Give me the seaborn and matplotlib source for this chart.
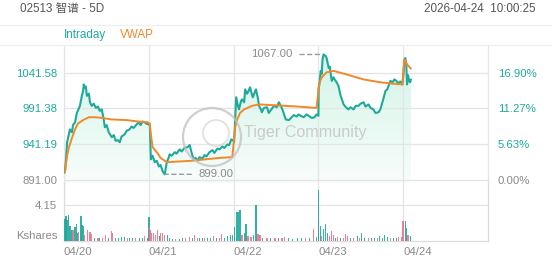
import numpy as np
import pandas as pd
import matplotlib
matplotlib.use("Agg")
import matplotlib.pyplot as plt
import seaborn as sns
from matplotlib.colors import LinearSegmentedColormap
from matplotlib.lines import Line2D
from matplotlib.patches import Circle

sns.set_theme(style="white")
plt.rcParams['font.family'] = ['Liberation Sans', 'Noto Sans CJK SC', 'DejaVu Sans']

# ---------------- data ----------------
TITLE = "02513 智谱 - 5D"
TIMESTAMP = "2026-04-24  10:00:25"
day_labels = ["04/20", "04/21", "04/22", "04/23", "04/24"]
session_minutes = 330
prev_close = 891.00
price_ticks = [891.00, 941.19, 991.38, 1041.58]
pct_labels = ["0.00%", "5.63%", "11.27%", "16.90%"]
vol_tick = 4.15
vol_tick_label = "4.15"
vol_unit = "Kshares"

# intraday price (minute since open, price)
d1_min = [0, 4, 8, 12, 19, 23, 31, 35, 43, 50, 62, 70, 74, 77, 81, 85, 89, 97, 101, 108,
          116, 124, 132, 139, 147, 155, 159, 166, 174, 186, 194, 201, 209, 217, 224, 236, 244,
          255, 263, 271, 283, 290, 298, 306, 313, 321, 330]
d1_px = [901, 905, 920, 944, 955, 962, 958, 968, 972, 985, 995, 1010, 1015, 1025, 1020, 1022,
         1009, 1012, 1000, 995, 998, 992, 994, 988, 990, 975, 965, 968, 958, 951, 954, 946, 947,
         944, 952, 955, 960, 962, 966, 964, 969, 972, 968, 973, 972, 970, 969]
d2_min = [4, 8, 15, 23, 31, 39, 46, 54, 62, 70, 77, 81, 89, 101, 108, 120, 128, 139, 151, 159,
          166, 174, 182, 190, 197, 209, 217, 224, 236, 248, 255, 267, 275, 286, 294, 306, 313,
          321, 330]
d2_px = [969, 920, 925, 916, 918, 910, 912, 903, 899, 916, 922, 927, 925, 930, 928, 934, 931,
         936, 937, 940, 930, 920, 922, 918, 923, 921, 926, 924, 930, 933, 929, 935, 934, 938,
         936, 941, 940, 948, 946]
d3_min = [2, 6, 10, 17, 21, 29, 33, 41, 45, 52, 56, 64, 72, 75, 83, 87, 95, 99, 106, 110, 118,
          130, 137, 145, 157, 168, 176, 184, 192, 199, 203, 215, 223, 234, 246, 253, 261, 273,
          284, 292, 304, 315, 323, 330]
d3_px = [944, 975, 1007, 995, 990, 1002, 1004, 1000, 1018, 1012, 1014, 1021, 1010, 1007, 1015,
         1018, 1005, 995, 990, 986, 992, 993, 985, 989, 995, 993, 1000, 995, 988, 980, 976, 975,
         978, 982, 980, 983, 981, 979, 983, 981, 978, 979, 983, 981]
d4_min = [1, 5, 9, 13, 16, 20, 28, 32, 40, 44, 52, 59, 63, 71, 78, 86, 98, 110, 117, 125, 137,
          145, 156, 164, 176, 183, 195, 203, 214, 222, 234, 241, 245, 253, 261, 268, 280, 288,
          296, 303, 311, 319, 327]
d4_px = [1018, 1030, 1044, 1040, 1060, 1067, 1065, 1062, 1048, 1050, 1030, 1035, 1032, 1028,
         1023, 1010, 997, 992, 990, 993, 990, 995, 995, 998, 1000, 994, 997, 992, 990, 985, 986,
         990, 995, 1005, 1016, 1018, 1030, 1028, 1032, 1030, 1027, 1029, 1025]
d5_min = [1, 4, 8, 12, 15, 19, 23, 27, 30]
d5_px = [1040, 1058, 1062, 1053, 1025, 1038, 1030, 1028, 1032]

# VWAP
v1_min = [4, 8, 12, 19, 23, 31, 43, 54, 74, 97, 120, 151, 182, 244, 290, 325]
v1_px = [902, 915, 925, 937, 941, 950, 962, 970, 975, 979, 979, 978, 976, 975, 973, 972]
v2_min = [4, 8, 15, 31, 46, 62, 70, 120, 170, 220, 275, 325]
v2_px = [970, 955, 937, 930, 922, 918, 916, 917, 918, 920, 922, 923]
v3_min = [2, 6, 13, 25, 41, 72, 99, 150, 200, 250, 323]
v3_px = [950, 965, 975, 985, 990, 995, 997, 996, 995, 994, 992]
v4_min = [1, 5, 13, 32, 59, 110, 176, 241, 290, 327]
v4_px = [1020, 1028, 1035, 1042, 1044, 1039, 1032, 1028, 1026, 1025]
v5_min = [4, 8, 15, 23, 30]
v5_px = [1060, 1058, 1053, 1050, 1047]

# volume (Kshares), u = up bar, d = down bar
vol1_min = [4, 8, 12, 19, 23, 31, 35, 43, 50, 54, 58, 66, 70, 77, 81, 93, 101, 108, 120, 132,
            139, 151, 163, 174, 186, 190, 201, 213, 224, 236, 248, 255, 267, 279, 294, 306, 313, 325]
vol1 = [2.5, 2.85, 2.45, 3.05, 1.7, 1.3, 1.2, 1.6, 2.0, 0.9, 1.0, 2.9, 1.8, 1.7, 0.6, 1.2, 1.0,
        0.8, 0.3, 0.25, 0.3, 0.35, 0.65, 0.3, 1.1, 0.9, 0.3, 0.25, 0.4, 0.4, 0.3, 0.35, 0.3, 0.25,
        0.35, 0.3, 0.55, 0.3]
dir1 = "uuuuuuduuu" "duuuddddud" "uddudduuuu" "duuduudu"
vol2_min = [1, 3, 7, 11, 18, 26, 34, 42, 45, 53, 61, 73, 80, 92, 104, 119, 130, 142, 158, 169,
            177, 189, 197, 208, 216, 228, 239, 251, 263, 274, 282, 294, 305, 317, 325]
vol2 = [2.8, 1.6, 1.2, 0.9, 0.9, 0.65, 1.3, 0.5, 0.9, 0.9, 0.65, 0.6, 0.3, 0.2, 0.2, 0.2, 0.25,
        0.3, 0.4, 0.3, 0.65, 0.3, 0.3, 0.25, 0.3, 0.25, 0.3, 0.5, 0.25, 0.3, 0.8, 0.3, 0.5, 0.6, 0.7]
dir2 = "uddddddudd" "duuuduuddu" "dduuduudud" "duuuu"
vol3_min = [2, 10, 17, 25, 33, 41, 48, 56, 68, 79, 87, 95, 103, 114, 130, 145, 161, 176, 188,
            199, 215, 230, 249, 265, 280, 296, 311, 323, 329]
vol3 = [1.65, 3.35, 3.35, 3.6, 0.6, 0.9, 2.0, 0.5, 0.4, 0.6, 4.15, 0.8, 0.6, 0.3, 0.25, 0.3,
        0.25, 0.3, 0.25, 0.4, 0.25, 0.2, 0.3, 0.25, 0.3, 0.25, 1.35, 0.4, 2.6]
dir3 = "uuuuduuddu" "uddudududd" "uuuududud"
vol4_min = [1, 9, 13, 20, 28, 36, 44, 52, 59, 67, 75, 86, 98, 106, 114, 125, 137, 152, 160, 168,
            179, 195, 206, 218, 229, 237, 249, 257, 268, 280, 292, 303, 311, 322, 329]
vol4 = [6.0, 1.7, 0.5, 1.35, 2.0, 0.9, 0.5, 1.1, 0.6, 0.35, 0.4, 0.3, 0.25, 0.8, 0.55, 0.3, 0.25,
        0.55, 0.3, 0.85, 0.3, 0.25, 0.3, 0.3, 0.25, 0.55, 0.3, 0.65, 0.4, 0.25, 0.3, 0.25, 0.45,
        0.4, 2.35]
dir4 = "uuduuudddu" "dudddududu" "uduuduuuud" "uuddd"
vol5_min = [8, 12, 19, 27]
vol5 = [2.25, 1.5, 0.7, 0.5]
dir5 = "uudu"

# ---------------- build tables ----------------
price_days = [(d1_min, d1_px), (d2_min, d2_px), (d3_min, d3_px), (d4_min, d4_px), (d5_min, d5_px)]
vwap_days = [(v1_min, v1_px), (v2_min, v2_px), (v3_min, v3_px), (v4_min, v4_px), (v5_min, v5_px)]
vol_days = [(vol1_min, vol1, dir1), (vol2_min, vol2, dir2), (vol3_min, vol3, dir3),
            (vol4_min, vol4, dir4), (vol5_min, vol5, dir5)]

price_df = pd.concat([pd.DataFrame({"t": np.array(m) + i * session_minutes, "price": p})
                      for i, (m, p) in enumerate(price_days)], ignore_index=True)
vwap_df = pd.concat([pd.DataFrame({"t": np.array(m) + i * session_minutes, "vwap": p})
                     for i, (m, p) in enumerate(vwap_days)], ignore_index=True)
vol_df = pd.concat([pd.DataFrame({"t": np.array(m) + i * session_minutes, "vol": v,
                                  "dir": list(dr)})
                    for i, (m, v, dr) in enumerate(vol_days)], ignore_index=True)

# ---------------- style ----------------
TEAL = "#1ea99b"
ORANGE = "#f0892a"
PINK = "#f0708c"
GRID = "#e4e4e4"
GRAY = "#8a8a8a"
W, H = 552, 265

fig = plt.figure(figsize=(W / 100, H / 100), dpi=100)
fig.patch.set_facecolor("white")

def fx(px):
    return px / W

def fy(py):
    return 1 - py / H

ax = fig.add_axes([fx(64), fy(183), fx(488) - fx(64), fy(45) - fy(183)])
axv = fig.add_axes([fx(64), fy(240.5), fx(488) - fx(64), fy(183) - fy(240.5)])

xmax = 5 * session_minutes
day_starts = [i * session_minutes for i in range(5)]
ylo, yhi = 886.8, 1080.3

# gradient fill under price
poly = ax.fill_between(price_df["t"], price_df["price"], ylo, color="none", lw=0)
grad = np.linspace(0, 1, 256).reshape(-1, 1)
cmap = LinearSegmentedColormap.from_list("g", ["#f8fdfb", "#d3f4e7"])
im = ax.imshow(grad, extent=[price_df["t"].min(), price_df["t"].max(), ylo, price_df["price"].max()],
               aspect="auto", cmap=cmap, origin="lower", zorder=0.5)
im.set_clip_path(poly.get_paths()[0], transform=ax.transData)

sns.lineplot(data=price_df, x="t", y="price", ax=ax, color=TEAL, lw=1.5, estimator=None,
             sort=False, zorder=3)
sns.lineplot(data=vwap_df, x="t", y="vwap", ax=ax, color=ORANGE, lw=1.4, estimator=None,
             sort=False, zorder=4)

ax.set_xlim(0, xmax)
ax.set_ylim(ylo, yhi)
ax.set_xlabel("")
ax.set_ylabel("")
ax.set_xticks(day_starts)
ax.set_xticklabels([])
ax.tick_params(axis="x", length=0)
ax.set_yticks(price_ticks)
ax.set_yticklabels([f"{v:.2f}" for v in price_ticks], fontsize=8.2)
ax.tick_params(axis="y", length=0, pad=5)
for lab, v in zip(ax.get_yticklabels(), price_ticks):
    lab.set_color(GRAY if v <= prev_close else TEAL)
ax.grid(True, color=GRID, lw=0.9)
for s in ["top", "bottom"]:
    ax.spines[s].set_visible(False)
for s in ["left", "right"]:
    ax.spines[s].set_color(GRID)
    ax.spines[s].set_linewidth(0.9)
ax.set_facecolor("none")

axr = ax.twinx()
axr.set_ylim(ylo, yhi)
axr.set_yticks(price_ticks)
axr.set_yticklabels(pct_labels, fontsize=8.2)
axr.tick_params(axis="y", length=0, pad=7)
for lab, v in zip(axr.get_yticklabels(), price_ticks):
    lab.set_color(GRAY if v <= prev_close else TEAL)
for s in axr.spines.values():
    s.set_visible(False)
axr.grid(False)

# annotations for high / low
imax = price_df["price"].idxmax()
imin = price_df["price"].idxmin()
ax.annotate(f"{price_df['price'][imax]:.2f}", xy=(price_df["t"][imax], price_df["price"][imax]),
            xytext=(-31, 0), textcoords="offset pixels", ha="right", va="center",
            fontsize=8.2, color=GRAY,
            arrowprops=dict(arrowstyle="-", color="#9a9a9a", ls=(0, (3, 2.5)), lw=1,
                            shrinkA=3, shrinkB=1), zorder=6)
ax.annotate(f"{price_df['price'][imin]:.2f}", xy=(price_df["t"][imin], price_df["price"][imin]),
            xytext=(34, 0), textcoords="offset pixels", ha="left", va="center",
            fontsize=8.2, color=GRAY,
            arrowprops=dict(arrowstyle="-", color="#9a9a9a", ls=(0, (3, 2.5)), lw=1,
                            shrinkA=3, shrinkB=1), zorder=6)

# volume bars
colors = [TEAL if d == "u" else PINK for d in vol_df["dir"]]
axv.bar(vol_df["t"], vol_df["vol"], width=4.6, color=colors, alpha=0.9, lw=0, zorder=3)
axv.set_xlim(0, xmax)
axv.set_ylim(0, 6.8)
axv.set_xticks(day_starts)
axv.set_xticklabels(day_labels, fontsize=8.2, color=GRAY, ha="left")
axv.tick_params(axis="x", length=0, pad=5)
axv.set_yticks([vol_tick])
axv.set_yticklabels([vol_tick_label], fontsize=8.2, color=GRAY)
axv.tick_params(axis="y", length=0, pad=5)
axv.grid(True, color=GRID, lw=0.9)
axv.spines["top"].set_visible(False)
for s in ["left", "right", "bottom"]:
    axv.spines[s].set_color("#dcdcdc")
    axv.spines[s].set_linewidth(0.9)
axv.set_facecolor("none")

# header / texts
fig.add_artist(Line2D([0, 1], [fy(25), fy(25)], color="#efefef", lw=0.9))
fig.add_artist(Line2D([0, 1], [fy(45), fy(45)], color="#efefef", lw=0.9))
fig.text(fx(20), fy(9), TITLE, fontsize=8.4, color="#555555", ha="left", va="center")
fig.text(fx(536), fy(9), TIMESTAMP, fontsize=8.4, color="#555555", ha="right", va="center")
fig.text(fx(64), fy(35), "Intraday", fontsize=8.4, color=TEAL, ha="left", va="center")
fig.text(fx(120), fy(35), "VWAP", fontsize=8.4, color=ORANGE, ha="left", va="center")
fig.text(fx(58), fy(236), vol_unit, fontsize=8.2, color=GRAY, ha="right", va="center")

# watermark (circle logo + text), drawn in inches so it stays round
fig.add_artist(Circle((212 / 100, (H - 137) / 100), 0.29, transform=fig.dpi_scale_trans,
                      fill=False, ec="#c4c4c4", lw=1.6, alpha=0.8))
fig.add_artist(Circle((216 / 100, (H - 133) / 100), 0.13, transform=fig.dpi_scale_trans,
                      fill=False, ec="#d2d2d2", lw=1.2, alpha=0.7))
fig.text(fx(244), fy(133), "Tiger Community", fontsize=11.6, color="#c6c6c6",
         ha="left", va="center", alpha=0.9)

fig.savefig("out.png", dpi=100, facecolor="white")
